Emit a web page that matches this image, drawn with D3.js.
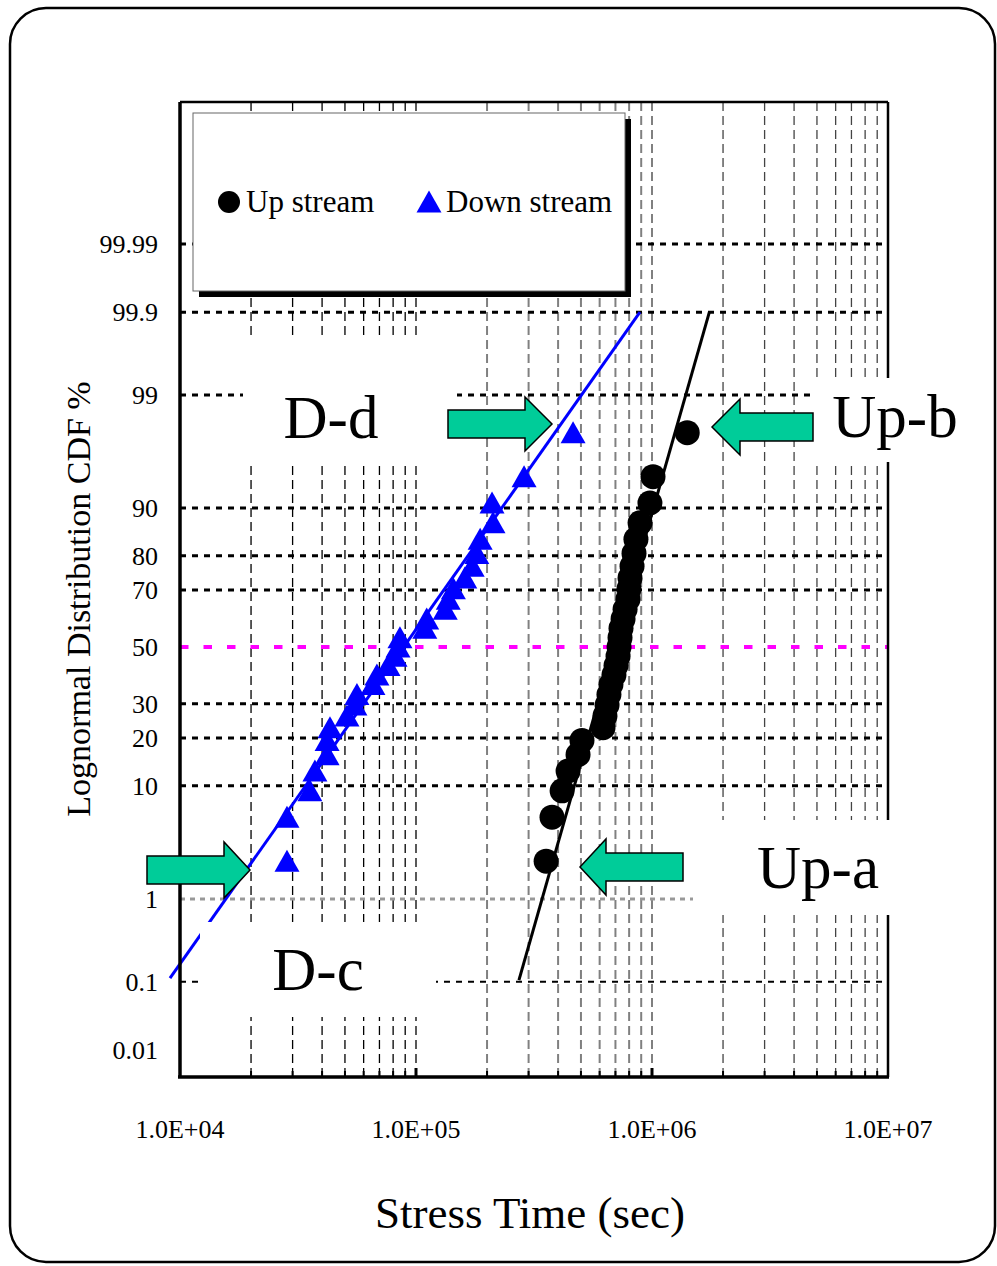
<!DOCTYPE html>
<html>
<head>
<meta charset="utf-8">
<script src="https://cdn.jsdelivr.net/npm/d3@7"></script>
<style>
  body { margin: 0; background: #fff; }
  svg { display: block; font-family: "Liberation Serif", "Times New Roman", serif; }
</style>
</head>
<body>
<svg id="chart" width="997" height="1266"></svg>
<script>
// Up stream failures (sec) and their CDF % (median ranks)
const upTimes = [3.56e5, 3.77e5, 4.16e5, 4.41e5, 4.86e5, 5.05e5, 6.20e5, 6.32e5, 6.45e5, 6.57e5,
                 6.70e5, 6.90e5, 7.04e5, 7.18e5, 7.25e5, 7.32e5, 7.39e5, 7.54e5, 7.69e5, 7.91e5,
                 7.99e5, 8.07e5, 8.23e5, 8.39e5, 8.55e5, 8.90e5, 9.80e5, 1.01e6, 1.41e6];
const upPct = [2.4, 5.8, 9.2, 12.6, 16.0, 19.4, 22.8, 26.2, 29.6, 33.0,
               36.4, 39.8, 43.2, 46.6, 50.0, 53.4, 56.8, 60.2, 63.6, 67.0,
               70.4, 73.8, 77.2, 80.6, 84.0, 87.4, 90.8, 94.2, 97.6];

// Down stream failures (sec) and their CDF %
const downTimes = [2.84e4, 2.84e4, 3.55e4, 3.73e4, 4.20e4, 4.20e4, 4.32e4, 5.10e4, 5.51e4, 5.62e4,
                   6.57e4, 6.83e4, 7.61e4, 8.15e4, 8.39e4, 8.55e4, 1.09e5, 1.11e5, 1.33e5, 1.37e5,
                   1.44e5, 1.61e5, 1.73e5, 1.81e5, 1.87e5, 2.12e5, 2.10e5, 2.87e5, 4.63e5];
const downPct = [2.4, 5.8, 9.2, 12.6, 16.0, 19.4, 22.8, 26.2, 29.6, 33.0,
                 36.4, 39.8, 43.2, 46.6, 50.0, 53.4, 56.8, 60.2, 63.6, 67.0,
                 70.4, 73.8, 77.2, 80.6, 84.0, 87.4, 90.8, 94.2, 97.6];

// fitted lognormal lines, end points
const upFitT = [2.73e5, 1.75e6];
const upFitP = [0.105, 99.9];
const downFitT = [9.07e3, 8.89e5];
const downFitP = [0.112, 99.9];

const yTicks = [0.01, 0.1, 1, 10, 20, 30, 50, 70, 80, 90, 99, 99.9, 99.99];
const yTickLabels = ["0.01", "0.1", "1", "10", "20", "30", "50", "70", "80", "90", "99", "99.9", "99.99"];
const xTicks = [1e4, 1e5, 1e6, 1e7];
const xTickLabels = ["1.0E+04", "1.0E+05", "1.0E+06", "1.0E+07"];

// inverse normal CDF (Acklam)
function probit(p) {
  const a = [-3.969683028665376e+01, 2.209460984245205e+02, -2.759285104469687e+02, 1.383577518672690e+02, -3.066479806614716e+01, 2.506628277459239e+00];
  const b = [-5.447609879822406e+01, 1.615858368580409e+02, -1.556989798598866e+02, 6.680131188771972e+01, -1.328068155288572e+01];
  const c = [-7.784894002430293e-03, -3.223964580411365e-01, -2.400758277161838e+00, -2.549732539343734e+00, 4.374664141464968e+00, 2.938163982698783e+00];
  const d = [7.784695709041462e-03, 3.224671290700398e-01, 2.445134137142996e+00, 3.754408661907416e+00];
  const pl = 0.02425;
  let q, r;
  if (p < pl) {
    q = Math.sqrt(-2 * Math.log(p));
    return (((((c[0]*q+c[1])*q+c[2])*q+c[3])*q+c[4])*q+c[5]) / ((((d[0]*q+d[1])*q+d[2])*q+d[3])*q+1);
  }
  if (p > 1 - pl) {
    q = Math.sqrt(-2 * Math.log(1 - p));
    return -(((((c[0]*q+c[1])*q+c[2])*q+c[3])*q+c[4])*q+c[5]) / ((((d[0]*q+d[1])*q+d[2])*q+d[3])*q+1);
  }
  q = p - 0.5; r = q * q;
  return (((((a[0]*r+a[1])*r+a[2])*r+a[3])*r+a[4])*r+a[5])*q / (((((b[0]*r+b[1])*r+b[2])*r+b[3])*r+b[4])*r+1);
}

const pLeft = 180, pRight = 888, pTop = 102, pBottom = 1077;
const svg = d3.select('#chart');

const x = d3.scaleLog().domain([1e4, 1e7]).range([pLeft, pRight]);
const z = d3.scaleLinear().domain([-3.97, 5.03]).range([pBottom, pTop]);
const y = p => z(probit(p / 100));

// outer rounded frame
svg.append('rect')
  .attr('x', 10).attr('y', 8).attr('width', 985).attr('height', 1254)
  .attr('rx', 36).attr('ry', 36)
  .attr('fill', '#fff').attr('stroke', '#000').attr('stroke-width', 2.5);

// vertical gridlines (2..9 per decade, plus inner decades)
const minor = [];
[1e4, 1e5, 1e6].forEach(dec => {
  for (let k = 2; k <= 10; k++) {
    const v = dec * k;
    if (v < 1e7) minor.push(v);
  }
});
const vStyle = v => v <= 1e5 ? { c: '#000', w: 1.3 } : (v <= 1e6 ? { c: '#808080', w: 2 } : { c: '#444', w: 1.3 });
svg.append('g').selectAll('line').data(minor).enter().append('line')
  .attr('x1', d => x(d)).attr('x2', d => x(d))
  .attr('y1', pTop).attr('y2', pBottom)
  .attr('stroke', d => vStyle(d).c)
  .attr('stroke-width', d => vStyle(d).w)
  .attr('stroke-dasharray', '9 5');

// horizontal gridlines
const hLines = [0.1, 10, 20, 30, 70, 80, 90, 99, 99.9, 99.99];
svg.append('g').selectAll('line').data(hLines).enter().append('line')
  .attr('x1', pLeft).attr('x2', pRight)
  .attr('y1', d => y(d)).attr('y2', d => y(d))
  .attr('stroke', '#000')
  .attr('stroke-width', d => d === 0.1 ? 2 : 3)
  .attr('stroke-dasharray', '6 6');

// 1 % line (grey)
svg.append('line')
  .attr('x1', pLeft).attr('x2', 693)
  .attr('y1', y(1)).attr('y2', y(1))
  .attr('stroke', '#999').attr('stroke-width', 3).attr('stroke-dasharray', '5 5');

// median line
svg.append('line')
  .attr('x1', pLeft).attr('x2', pRight)
  .attr('y1', y(50)).attr('y2', y(50))
  .attr('stroke', '#ff00ff').attr('stroke-width', 4).attr('stroke-dasharray', '8.5 15');

// plot frame
svg.append('line').attr('x1', pLeft).attr('x2', pRight).attr('y1', pTop).attr('y2', pTop)
  .attr('stroke', '#000').attr('stroke-width', 2.5);
svg.append('line').attr('x1', pRight).attr('x2', pRight).attr('y1', pTop).attr('y2', pBottom)
  .attr('stroke', '#000').attr('stroke-width', 2.5);

// fit lines
const fitLine = d3.line().x(d => x(d[0])).y(d => y(d[1]));
svg.append('path')
  .attr('d', fitLine(d3.zip(downFitT, downFitP)))
  .attr('stroke', '#0000ff').attr('stroke-width', 3).attr('fill', 'none');
svg.append('path')
  .attr('d', fitLine(d3.zip(upFitT, upFitP)))
  .attr('stroke', '#000').attr('stroke-width', 3).attr('fill', 'none');

// white text boxes that sit over the grid
const boxes = [
  [243, 340, 214, 122],   // D-d
  [200, 922, 236, 95],    // D-c
  [693, 820, 270, 95],    // Up-a
  [815, 378, 150, 84]     // Up-b
];
svg.append('g').selectAll('rect').data(boxes).enter().append('rect')
  .attr('x', d => d[0]).attr('y', d => d[1]).attr('width', d => d[2]).attr('height', d => d[3])
  .attr('fill', '#fff');

// axes (left + bottom)
svg.append('line').attr('x1', pLeft).attr('x2', pLeft).attr('y1', pTop).attr('y2', pBottom)
  .attr('stroke', '#000').attr('stroke-width', 3.5);
svg.append('line').attr('x1', pLeft - 2).attr('x2', pRight + 1).attr('y1', pBottom).attr('y2', pBottom)
  .attr('stroke', '#000').attr('stroke-width', 3.5);
// small inside ticks along bottom
svg.append('g').selectAll('line').data(minor).enter().append('line')
  .attr('x1', d => x(d)).attr('x2', d => x(d))
  .attr('y1', pBottom).attr('y2', d => (d === 1e5 || d === 1e6) ? pBottom - 9 : pBottom - 6)
  .attr('stroke', '#000').attr('stroke-width', d => (d === 1e5 || d === 1e6) ? 3 : 2);

// tick labels
svg.append('g').selectAll('text').data(yTicks).enter().append('text')
  .attr('x', 158).attr('y', d => y(d))
  .attr('dy', '0.35em')
  .attr('text-anchor', 'end')
  .attr('font-size', 26)
  .text((d, i) => yTickLabels[i]);

svg.append('g').selectAll('text').data(xTicks).enter().append('text')
  .attr('x', d => x(d)).attr('y', 1138)
  .attr('text-anchor', 'middle')
  .attr('font-size', 26)
  .text((d, i) => xTickLabels[i]);

// axis titles
svg.append('text')
  .attr('x', 530).attr('y', 1228)
  .attr('text-anchor', 'middle').attr('font-size', 45)
  .text('Stress Time (sec)');
svg.append('text')
  .attr('transform', 'translate(90,599) rotate(-90)')
  .attr('text-anchor', 'middle').attr('font-size', 34)
  .text('Lognormal Distribution CDF %');

// markers
const tri = (cx, cy) => `M${cx - 12.5},${cy + 10.5} L${cx},${cy - 11.5} L${cx + 12.5},${cy + 10.5} Z`;
svg.append('g').selectAll('path').data(d3.zip(downTimes, downPct)).enter().append('path')
  .attr('d', d => tri(x(d[0]), y(d[1])))
  .attr('fill', '#0000ff');
svg.append('g').selectAll('circle').data(d3.zip(upTimes, upPct)).enter().append('circle')
  .attr('cx', d => x(d[0])).attr('cy', d => y(d[1]))
  .attr('r', 12.5).attr('fill', '#000');

// legend
svg.append('rect').attr('x', 199).attr('y', 119).attr('width', 432).attr('height', 178).attr('fill', '#000');
svg.append('rect').attr('x', 193).attr('y', 113).attr('width', 432).attr('height', 178)
  .attr('fill', '#fff').attr('stroke', '#666').attr('stroke-width', 1);
svg.append('circle').attr('cx', 229).attr('cy', 202).attr('r', 11).attr('fill', '#000');
svg.append('path').attr('d', tri(429, 202)).attr('fill', '#0000ff');
svg.append('text').attr('x', 246).attr('y', 212).attr('font-size', 31).text('Up stream');
svg.append('text').attr('x', 446).attr('y', 212).attr('font-size', 31).text('Down stream');

// annotation arrows
const green = '#00cc99';
const arrowPath = (x0, x1, xt, cy, hs, hh) =>
  `M${x0},${cy - hs} L${x1},${cy - hs} L${x1},${cy - hh} L${xt},${cy} L${x1},${cy + hh} L${x1},${cy + hs} L${x0},${cy + hs} Z`;
const arrows = [
  arrowPath(448, 525, 552, 424, 14, 27),  // D-d
  arrowPath(147, 224, 250, 870, 14, 28),  // D-c
  arrowPath(813, 740, 712, 427, 14, 28),  // Up-b (left pointing)
  arrowPath(683, 606, 580, 867, 14, 28)   // Up-a (left pointing)
];
svg.append('g').selectAll('path').data(arrows).enter().append('path')
  .attr('d', d => d)
  .attr('fill', green).attr('stroke', '#000').attr('stroke-width', 1.5);

// annotation labels
const notes = [['D-d', 331, 438], ['D-c', 318, 990], ['Up-b', 895, 437], ['Up-a', 818, 888]];
svg.append('g').selectAll('text').data(notes).enter().append('text')
  .attr('x', d => d[1]).attr('y', d => d[2])
  .attr('text-anchor', 'middle').attr('font-size', 61)
  .text(d => d[0]);
</script>
</body>
</html>
